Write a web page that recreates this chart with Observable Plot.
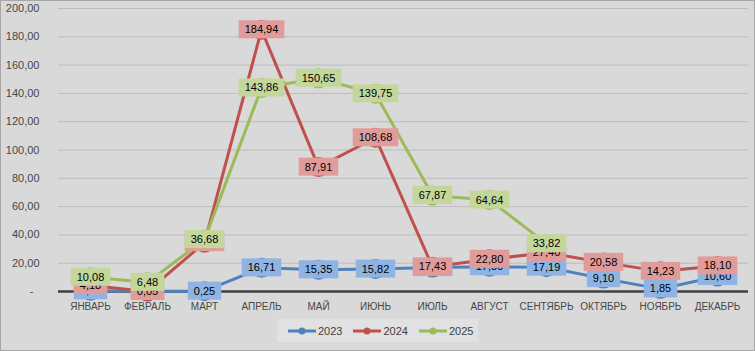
<!DOCTYPE html>
<html>
<head>
<meta charset="utf-8">
<script src="https://cdn.jsdelivr.net/npm/d3@7"></script>
<script src="https://cdn.jsdelivr.net/npm/@observablehq/plot@0.6"></script>
<style>
html, body { margin: 0; padding: 0; background: #d9d9d9; }
#wrap { position: relative; width: 755px; height: 351px; background: #d9d9d9; font-family: "Liberation Sans", Arial, sans-serif; overflow: hidden; }
#frame { position: absolute; left: 0; top: 0; width: 753px; height: 349px; border: 1px solid #a6a6a6; pointer-events: none; }
#chart svg { display: block; }
#legend { position: relative; height: 39px; }
#legend .box { position: absolute; left: 277px; top: 7px; width: 201px; height: 23px; background: #e1e1e1; display: flex; align-items: center; padding-left: 11px; box-sizing: border-box; }
#legend .item { display: flex; align-items: center; margin-right: 11px; font-size: 11px; color: #404040; }
#legend .item svg { display: block; margin-right: 2px; }
</style>
</head>
<body>
<div id="wrap">
  <div id="chart"></div>
  <div id="legend"><div class="box" id="legendBox"></div></div>
  <div id="frame"></div>
</div>
<script>
const months = ["ЯНВАРЬ","ФЕВРАЛЬ","МАРТ","АПРЕЛЬ","МАЙ","ИЮНЬ","ИЮЛЬ","АВГУСТ","СЕНТЯБРЬ","ОКТЯБРЬ","НОЯБРЬ","ДЕКАБРЬ"];
const years = ["2023","2024","2025"];
const v2023 = [0.5, 0.1, 0.25, 16.71, 15.35, 15.82, 16.9, 17.50, 17.19, 9.10, 1.85, 10.60];
const v2024 = [4.18, 0.05, 34.5, 184.94, 87.91, 108.68, 17.43, 22.80, 27.40, 20.58, 14.23, 18.10];
const v2025 = [10.08, 6.48, 36.68, 143.86, 150.65, 139.75, 67.87, 64.64, 33.82, null, null, null];
const yTicks = [0, 20, 40, 60, 80, 100, 120, 140, 160, 180, 200];

const lineColors = ["#4f81bd", "#c0504d", "#9bbb59"];
const boxColors = ["#8fb4e3", "#e19c9a", "#c4d79b"];

const seriesValues = [v2023, v2024, v2025];
const rows = years.flatMap((yr, i) =>
  seriesValues[i].map((v, j) => ({year: yr, month: months[j], value: v}))
).filter(d => d.value != null);

const fmt = v => v === 0 ? "-" : v.toFixed(2).replace(".", ",");

const marks = [
  Plot.ruleY(yTicks.filter(t => t > 0), {stroke: "#bcbcbc", strokeWidth: 1}),
  Plot.ruleY([0], {stroke: "#404040", strokeWidth: 2.5}),
  Plot.axisY({ticks: yTicks.filter(t => t > 0), tickSize: 0, tickPadding: 19, tickFormat: fmt, fontSize: 11, label: null}),
  Plot.axisY({ticks: [0], tickSize: 0, tickPadding: 25, tickFormat: fmt, fontSize: 11, label: null}),
  Plot.axisX({tickSize: 0, tickPadding: 11, fontSize: 10, label: null})
];
years.forEach((yr, i) => {
  const data = rows.filter(d => d.year === yr);
  marks.push(Plot.line(data, {x: "month", y: "value", stroke: lineColors[i], strokeWidth: 3}));
  marks.push(Plot.dot(data, {x: "month", y: "value", r: 10, fill: lineColors[i], stroke: "none"}));
});
years.forEach((yr, i) => {
  const data = rows.filter(d => d.year === yr);
  marks.push(Plot.text(data, {x: "month", y: "value", text: d => fmt(d.value), fill: "#000", fontSize: 11}));
});

const svg = Plot.plot({
  width: 755,
  height: 312,
  marginLeft: 58,
  marginRight: 7,
  marginTop: 8,
  marginBottom: 21,
  style: {background: "#d9d9d9", color: "#474747", fontFamily: "'Liberation Sans', Arial, sans-serif", fontSize: "11px"},
  x: {type: "point", domain: months, padding: 0.5, label: null},
  y: {domain: [0, 200], label: null},
  marks
});
document.getElementById("chart").append(svg);

const NS = "http://www.w3.org/2000/svg";
const labelGroups = svg.querySelectorAll('g[aria-label="text"]');
labelGroups.forEach((g, i) => {
  g.querySelectorAll("text").forEach(t => {
    const b = t.getBBox();
    const r = document.createElementNS(NS, "rect");
    const h = 18;
    r.setAttribute("x", b.x - 6);
    r.setAttribute("y", b.y + b.height / 2 - h / 2);
    r.setAttribute("width", b.width + 12);
    r.setAttribute("height", h);
    r.setAttribute("fill", boxColors[i]);
    const tr = t.getAttribute("transform");
    if (tr) r.setAttribute("transform", tr);
    t.parentNode.insertBefore(r, t);
  });
});

// legend
const lb = document.getElementById("legendBox");
years.forEach((yr, i) => {
  const item = document.createElement("div");
  item.className = "item";
  item.innerHTML = `<svg width="28" height="10"><line x1="0" y1="5" x2="28" y2="5" stroke="${lineColors[i]}" stroke-width="3"/><circle cx="14" cy="5" r="3.5" fill="${lineColors[i]}"/></svg><span>${yr}</span>`;
  lb.append(item);
});
</script>
</body>
</html>
